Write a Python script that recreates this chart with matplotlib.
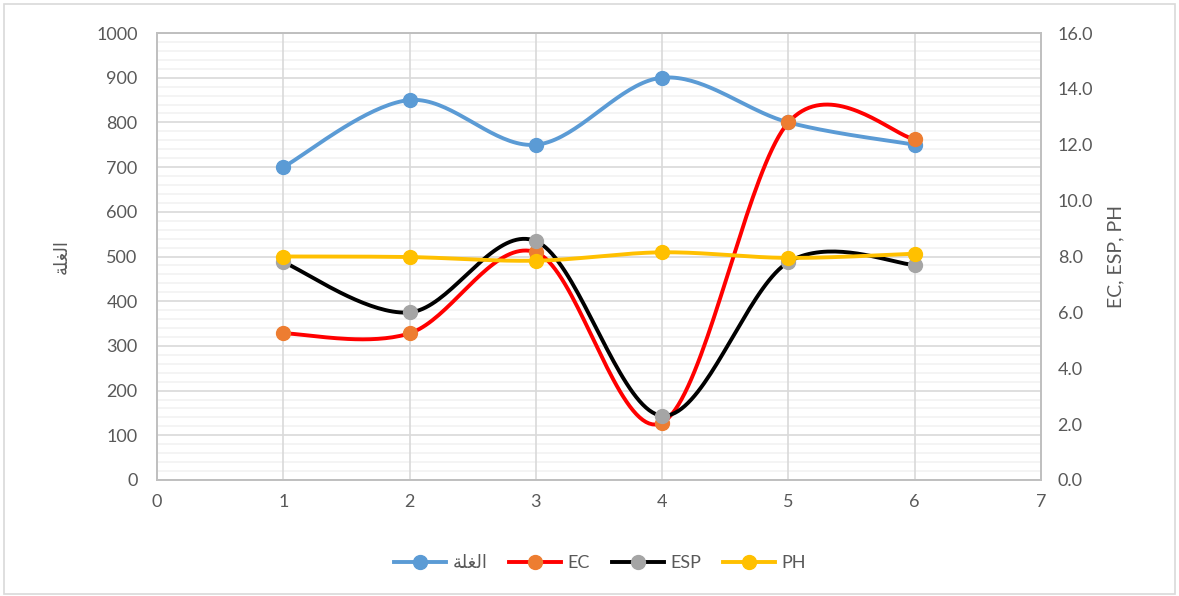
import numpy as np
import matplotlib.pyplot as plt
from matplotlib.lines import Line2D

# data
x_vals = [1, 2, 3, 4, 5, 6]
yield_vals = [700, 850, 750, 900, 800, 750]          # left axis
ec_vals = [5.25, 5.25, 8.15, 2.05, 12.8, 12.2]        # right axis
esp_vals = [7.8, 6.0, 8.55, 2.3, 7.8, 7.7]
ph_vals = [8.0, 7.98, 7.85, 8.15, 7.95, 8.1]

yield_name = "الغلة"
# presentation forms in visual order, matplotlib does no arabic shaping
yield_shown = "\uFE94\uFEE0\uFED0\uFEDF\uFE8D"
series_names = [yield_name, "EC", "ESP", "PH"]
right_label = "EC, ESP, PH"

left_ticks = list(range(0, 1001, 100))
right_ticks = [0, 2, 4, 6, 8, 10, 12, 14, 16]
x_ticks = [0, 1, 2, 3, 4, 5, 6, 7]

txt_color = "#595959"
grid_major = "#D9D9D9"
grid_minor = "#F2F2F2"


def smooth(xs, ys, n=40):
    # excel-like smoothed line (catmull-rom as cubic bezier)
    xs = np.asarray(xs, float)
    ys = np.asarray(ys, float)
    pts = np.column_stack([xs, ys])
    out = []
    for i in range(len(pts) - 1):
        p0 = pts[i - 1] if i > 0 else pts[i]
        p1 = pts[i]
        p2 = pts[i + 1]
        p3 = pts[i + 2] if i + 2 < len(pts) else pts[i + 1]
        c1 = p1 + (p2 - p0) / 6
        c2 = p2 - (p3 - p1) / 6
        t = np.linspace(0, 1, n)[:, None]
        seg = ((1 - t) ** 3) * p1 + 3 * ((1 - t) ** 2) * t * c1 \
            + 3 * (1 - t) * t ** 2 * c2 + t ** 3 * p2
        out.append(seg if i == 0 else seg[1:])
    out = np.vstack(out)
    return out[:, 0], out[:, 1]


plt.rcParams['font.family'] = ['Lato', 'DejaVu Sans']

fig = plt.figure(figsize=(11.79, 5.96), dpi=100)
ax = fig.add_axes([157 / 1179, 1 - 480 / 596, 884 / 1179, 447 / 596])
ax2 = ax.twinx()

# left axis
ax.set_xlim(0, 7)
ax.set_ylim(0, 1000)
ax.set_xticks(x_ticks)
ax.set_yticks(left_ticks)
ax.set_yticks(np.arange(0, 1001, 20), minor=True)
ax.grid(axis='y', which='minor', color=grid_minor, linewidth=1.2)
ax.grid(axis='y', which='major', color=grid_major, linewidth=1.2)
ax.set_axisbelow(True)
# vertical gridlines drawn on top of the minor horizontal ones
for xv in x_ticks[1:-1]:
    ax.axvline(xv, color=grid_major, linewidth=1.2, zorder=1)
ax.tick_params(which='both', length=0, labelsize=13, colors=txt_color, pad=10)
ax.tick_params(axis='y', pad=14)
ax.set_ylabel(yield_shown, family=['DejaVu Sans'], fontsize=13,
              color=txt_color, labelpad=18)

# right axis
ax2.set_ylim(0, 16)
ax2.set_yticks(right_ticks)
ax2.set_yticklabels(["%.1f" % v for v in right_ticks])
ax2.tick_params(length=0, labelsize=13, colors=txt_color, pad=12)
ax2.set_ylabel(right_label, fontsize=14, color=txt_color, labelpad=10)

for a in (ax, ax2):
    for s in a.spines.values():
        s.set_color("#BFBFBF")
        s.set_linewidth(1.2)

# lines
lw = 2.8
ms = 10
sx, sy = smooth(x_vals, yield_vals)
ax.plot(sx, sy, color="#5B9BD5", lw=lw, zorder=3)
ax.plot(x_vals, yield_vals, 'o', color="#5B9BD5", ms=ms, zorder=4)

styles = [(ec_vals, "#FF0000", "#ED7D31"),
          (esp_vals, "#000000", "#A5A5A5"),
          (ph_vals, "#FFC000", "#FFC000")]
for vals, lc, mc in styles:
    sx, sy = smooth(x_vals, vals)
    ax2.plot(sx, sy, color=lc, lw=lw, zorder=3)
    ax2.plot(x_vals, vals, 'o', color=mc, ms=ms, zorder=4)

# legend
handles = [Line2D([], [], color="#5B9BD5", lw=lw, marker='o', ms=ms,
                  markerfacecolor="#5B9BD5", markeredgecolor="#5B9BD5")]
for vals, lc, mc in styles:
    handles.append(Line2D([], [], color=lc, lw=lw, marker='o', ms=ms,
                          markerfacecolor=mc, markeredgecolor=mc))
labels = [yield_shown] + series_names[1:]
leg = fig.legend(handles, labels, loc='center', bbox_to_anchor=(600 / 1179, 1 - 563 / 596),
                 ncol=4, frameon=False, handlelength=2.9,
                 columnspacing=1.2, handletextpad=0.35,
                 prop={'family': ['Lato', 'DejaVu Sans'], 'size': 13})
for t in leg.get_texts():
    t.set_color(txt_color)

# outer chart border
fig.patches.append(plt.Rectangle((0.003, 0.003), 0.994, 0.99, transform=fig.transFigure,
                                 fill=False, edgecolor="#D9D9D9", lw=1.2))

fig.savefig("out.png", dpi=100)
